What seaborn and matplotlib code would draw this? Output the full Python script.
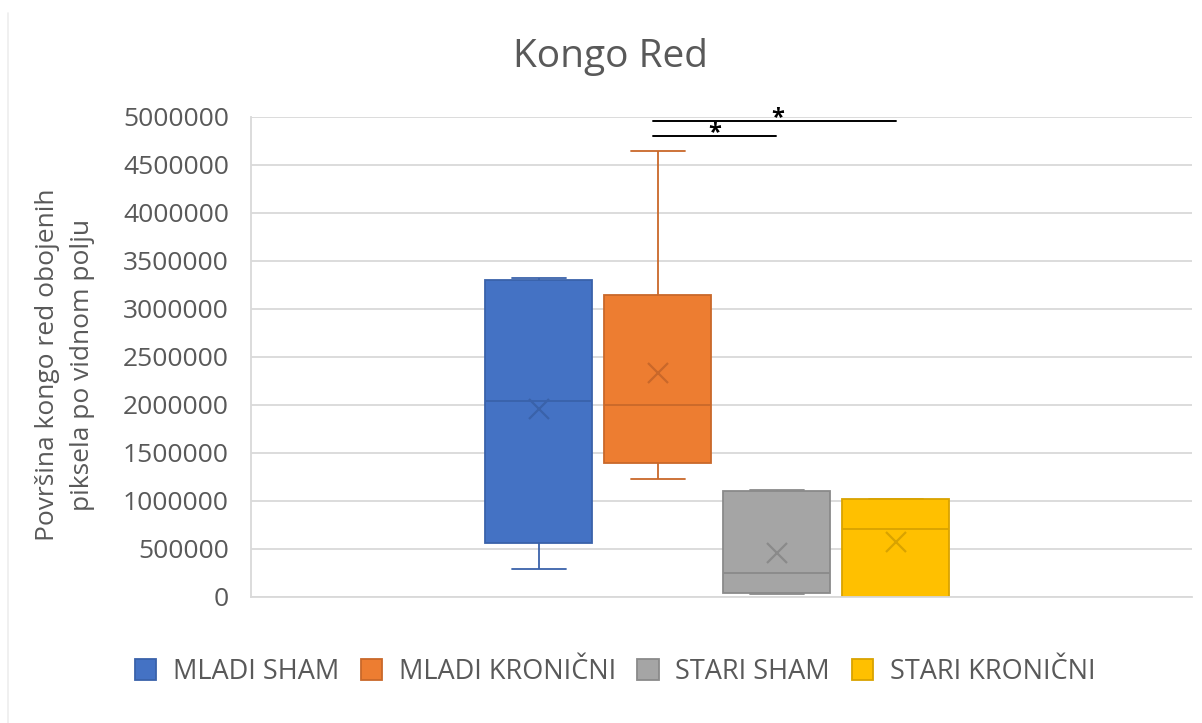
import matplotlib
matplotlib.use('Agg')
import matplotlib.pyplot as plt
from matplotlib.lines import Line2D
from matplotlib.patches import Patch
import seaborn as sns
import pandas as pd

# grupe i vrijednosti (procjena s grafa: min, Q1, medijan, Q3, max + srednja vrijednost)
groups = ['MLADI SHAM', 'MLADI KRONIČNI', 'STARI SHAM', 'STARI KRONIČNI']
mladi_sham = [292000, 400000, 562500, 1500000, 2045000, 2890000, 3302000, 3310000, 3320000]
mladi_kronicni = [1229000, 1300000, 1399000, 1700000, 2003000, 2400000, 3146000, 3170000, 4650000]
stari_sham = [35000, 38000, 38500, 120000, 247000, 293500, 1104000, 1105000, 1110000]
stari_kronicni = [0, 0, 0, 500000, 708000, 916000, 1018000, 1020000, 1022000]
yticks = [0, 500000, 1000000, 1500000, 2000000, 2500000, 3000000, 3500000, 4000000, 4500000, 5000000]

fill_colors = ['#4472C4', '#ED7D31', '#A5A5A5', '#FFC000']
edge_colors = ['#3A62AA', '#C9682A', '#8A8A8A', '#D9A300']

df = pd.DataFrame({
    'grupa': [groups[0]] * len(mladi_sham) + [groups[1]] * len(mladi_kronicni)
             + [groups[2]] * len(stari_sham) + [groups[3]] * len(stari_kronicni),
    'vrijednost': mladi_sham + mladi_kronicni + stari_sham + stari_kronicni,
})

sns.set_style('white')
plt.rcParams['font.family'] = ['Open Sans', 'DejaVu Sans']
txt = '#595959'

fig = plt.figure(figsize=(12.02, 7.23), dpi=100)
ax = fig.add_axes([0.2088, 0.1743, 0.7829, 0.6639])

for g, fc, ec in zip(groups, fill_colors, edge_colors):
    sub = df[df['grupa'] == g]
    sns.boxplot(data=sub, x='grupa', y='vrijednost', order=groups, ax=ax,
                color=fc, linecolor=ec, linewidth=1.3, width=0.9, saturation=1,
                whis=(0, 100), showfliers=False, showmeans=True,
                meanprops=dict(marker='x', markeredgecolor=ec, markersize=14, markeredgewidth=1.6))

ax.set_xlim(-2.42, 5.49)
ax.set_ylim(0, 5000000)
ax.set_yticks(yticks)
ax.set_yticklabels([str(v) for v in yticks])
ax.set_xticks([])
ax.set_xlabel('')
ax.set_ylabel('')
ax.yaxis.grid(True, color='#D9D9D9', linewidth=1.3)
ax.set_axisbelow(True)
ax.tick_params(axis='y', length=0, pad=16, labelsize=19, labelcolor=txt)
for s in ['top', 'right']:
    ax.spines[s].set_visible(False)
for s in ['left', 'bottom']:
    ax.spines[s].set_color('#D9D9D9')
    ax.spines[s].set_linewidth(1.3)

# oznake značajnosti
ax.plot([0.96, 1.99], [4802000, 4802000], color='black', lw=1.4, clip_on=False)
ax.plot([0.96, 3.0], [4961000, 4961000], color='black', lw=1.4, clip_on=False)
ax.text(1.48, 4707000, '*', ha='center', va='bottom', fontsize=17, fontweight='bold',
        color='black', clip_on=False)
ax.text(2.01, 4867000, '*', ha='center', va='bottom', fontsize=17, fontweight='bold',
        color='black', clip_on=False)

fig.text(0.508, 0.921, 'Kongo Red', ha='center', va='center', fontsize=28, color=txt)
fig.text(65 / 1202, 1 - 365 / 723, 'Površina kongo red obojenih\npiksela po vidnom polju',
         rotation=90, ha='center', va='center', multialignment='center',
         fontsize=19, color=txt, linespacing=1.5)

handles = [Patch(facecolor=fc, edgecolor=ec, linewidth=1.3) for fc, ec in zip(fill_colors, edge_colors)]
fig.legend(handles, groups, loc='center', bbox_to_anchor=(615 / 1202, 1 - 672 / 723), ncol=4,
           frameon=False, fontsize=19.5, labelcolor=txt, handlelength=0.8, handleheight=0.8,
           handletextpad=0.6, columnspacing=0.8)

fig.add_artist(Line2D([8 / 1202, 8 / 1202], [0, 1 - 13 / 723], color='#EEEEEE', lw=1.2))

fig.savefig('out.png', dpi=100)
